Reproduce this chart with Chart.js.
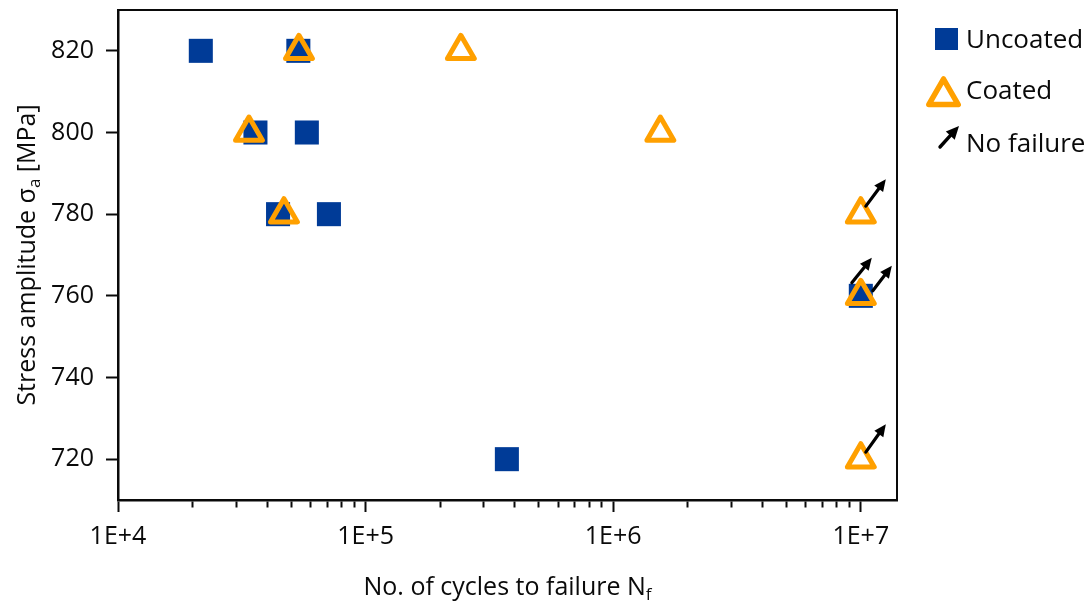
<!DOCTYPE html>
<html>
<head>
<meta charset="utf-8">
<script src="https://cdn.jsdelivr.net/npm/chart.js@4.4.1/dist/chart.umd.min.js"></script>
<style>
  html, body { margin: 0; padding: 0; background: #ffffff; }
  #wrap { width: 1090px; height: 605px; }
</style>
</head>
<body>
<div id="wrap"><canvas id="sn" width="1090" height="605"></canvas></div>
<script>
// S-N fatigue results: cycles to failure vs. stress amplitude
const uncoatedCycles = [21600, 53500, 35900, 57900, 44300, 71100, 372000, 1e7];
const uncoatedStress = [820, 820, 800, 800, 780, 780, 720, 760];
const coatedCycles   = [53800, 242500, 33800, 46800, 1550000, 1e7, 1e7, 1e7];
const coatedStress   = [820, 820, 800, 780, 800, 780, 760, 720];

// run-outs (no failure): which dataset and which point
const runoutSeries = [1, 0, 1, 1];
const runoutIndex  = [5, 7, 6, 7];

const xMajorTicks  = [1e4, 1e5, 1e6, 1e7];
const xTickLabels  = ['1E+4', '1E+5', '1E+6', '1E+7'];
const yTickValues  = [720, 740, 760, 780, 800, 820];

const legendLabels = ['Uncoated', 'Coated', 'No failure'];

// styling
const BLUE = '#003b97';
const ORANGE = '#ffa000';
const INK = '#0a0a0a';
const FONT = '"Open Sans", "Noto Sans", sans-serif';
const TXT = 25;      // axis text size
const SUB = 17;      // subscript size
const LEG = 26;      // legend text size
// arrow start/end offsets (px) from the run-out point, one per run-out
const arrowOffsets = [
  [5, -8, 25, -35],
  [-9, -13, 11, -38],
  [12, -5, 31, -30],
  [5, -7, 25, -35]
];

const xMinorTicks = [];
for (let d = 1e4; d < 1e7; d *= 10) {
  for (let m = 2; m <= 9; m++) xMinorTicks.push(d * m);
}
const xAllTicks = xMajorTicks.concat(xMinorTicks).sort((a, b) => a - b);
const isMajor = v => xMajorTicks.some(t => Math.abs(t - v) / t < 1e-9);

function toPoints(xs, ys) { return xs.map((x, i) => ({ x: x, y: ys[i] })); }

function drawArrow(ctx, x0, y0, x1, y1, lw, headLen, headW) {
  const ang = Math.atan2(y1 - y0, x1 - x0);
  const bx = x1 - Math.cos(ang) * headLen, by = y1 - Math.sin(ang) * headLen;
  ctx.save();
  ctx.strokeStyle = '#000'; ctx.fillStyle = '#000';
  ctx.lineWidth = lw; ctx.lineCap = 'round';
  ctx.beginPath(); ctx.moveTo(x0, y0); ctx.lineTo(bx + Math.cos(ang) * 2, by + Math.sin(ang) * 2); ctx.stroke();
  const px = -Math.sin(ang) * headW / 2, py = Math.cos(ang) * headW / 2;
  ctx.beginPath();
  ctx.moveTo(x1, y1);
  ctx.lineTo(bx + px, by + py);
  ctx.lineTo(bx - px, by - py);
  ctx.closePath(); ctx.fill();
  ctx.restore();
}

// text with a subscript part; parts = [[text, isSub], ...]
function richWidth(ctx, parts, size, subSize) {
  let w = 0;
  parts.forEach(p => { ctx.font = (p[1] ? subSize : size) + 'px ' + FONT; w += ctx.measureText(p[0]).width; });
  return w;
}
function drawRich(ctx, parts, x, y, size, subSize, subDrop) {
  let cx = x;
  parts.forEach(p => {
    ctx.font = (p[1] ? subSize : size) + 'px ' + FONT;
    ctx.fillText(p[0], cx, p[1] ? y + subDrop : y);
    cx += ctx.measureText(p[0]).width;
  });
}

const decorations = {
  id: 'decorations',
  beforeDatasetsDraw(chart) {
    const { ctx, chartArea: a } = chart;
    ctx.save();
    ctx.strokeStyle = INK; ctx.lineWidth = 2;
    ctx.beginPath();
    ctx.moveTo(a.left, a.top); ctx.lineTo(a.right, a.top); ctx.lineTo(a.right, a.bottom);
    ctx.stroke();
    ctx.restore();
    ctx.save();
    ctx.lineJoin = 'round';
  },
  afterDatasetsDraw(chart) {
    const ctx = chart.ctx;
    ctx.restore();
    runoutSeries.forEach((s, k) => {
      const pt = chart.getDatasetMeta(s).data[runoutIndex[k]];
      const o = arrowOffsets[k];
      drawArrow(ctx, pt.x + o[0], pt.y + o[1], pt.x + o[2], pt.y + o[3], 3.2, 12, 11);
    });
  },
  afterDraw(chart) {
    const { ctx, chartArea: a } = chart;
    ctx.save();
    ctx.fillStyle = INK;
    ctx.textBaseline = 'alphabetic';
    ctx.textAlign = 'left';

    // x-axis title
    const xParts = [['No. of cycles to failure N', false], ['f', true]];
    const xw = richWidth(ctx, xParts, TXT, SUB);
    drawRich(ctx, xParts, (a.left + a.right) / 2 - xw / 2, 595, TXT, SUB, 5);

    // y-axis title (rotated)
    const yParts = [['Stress amplitude \u03c3', false], ['a', true], [' [MPa]', false]];
    const yw = richWidth(ctx, yParts, TXT, SUB);
    ctx.save();
    ctx.translate(35, (a.top + a.bottom) / 2);
    ctx.rotate(-Math.PI / 2);
    drawRich(ctx, yParts, -yw / 2, 0, TXT, SUB, 5);
    ctx.restore();

    // legend
    ctx.fillStyle = BLUE;
    ctx.fillRect(935, 28, 23, 22);
    ctx.save();
    ctx.strokeStyle = ORANGE; ctx.lineWidth = 5.5; ctx.lineJoin = 'round';
    const tcx = 943.5, tcy = 96, tr = 17;
    ctx.beginPath();
    for (let i = 0; i < 3; i++) {
      const ang = i * 2 * Math.PI / 3;
      const px = tcx + Math.sin(ang) * tr, py = tcy - Math.cos(ang) * tr;
      if (i === 0) ctx.moveTo(px, py); else ctx.lineTo(px, py);
    }
    ctx.closePath(); ctx.stroke();
    ctx.restore();
    drawArrow(ctx, 940, 147, 959, 126, 3.4, 13, 12);
    ctx.fillStyle = INK;
    ctx.font = LEG + 'px ' + FONT;
    ctx.fillText(legendLabels[0], 966, 48);
    ctx.fillText(legendLabels[1], 966, 99);
    ctx.fillText(legendLabels[2], 966, 152);
    ctx.restore();
  }
};

new Chart(document.getElementById('sn'), {
  type: 'scatter',
  data: {
    datasets: [
      {
        label: legendLabels[0],
        data: toPoints(uncoatedCycles, uncoatedStress),
        pointStyle: 'rect',
        pointRadius: 17,
        pointBackgroundColor: BLUE,
        pointBorderWidth: 0,
        pointBorderColor: BLUE,
        order: 2,
        clip: false
      },
      {
        label: legendLabels[1],
        data: toPoints(coatedCycles, coatedStress),
        pointStyle: 'triangle',
        pointRadius: 15.5,
        pointBackgroundColor: 'rgba(0,0,0,0)',
        pointBorderColor: ORANGE,
        pointBorderWidth: 5,
        order: 1,
        clip: false
      }
    ]
  },
  options: {
    responsive: false,
    animation: false,
    events: [],
    layout: { autoPadding: false, padding: { top: 10, right: 193, left: 0, bottom: 0 } },
    plugins: { legend: { display: false }, tooltip: { enabled: false } },
    scales: {
      x: {
        type: 'logarithmic',
        position: 'bottom',
        min: 1e4,
        max: 1.4e7,
        afterBuildTicks: s => { s.ticks = xAllTicks.map(v => ({ value: v, major: isMajor(v) })); },
        afterFit: s => { s.height = 105; s.paddingLeft = 0; s.paddingRight = 0; s.paddingTop = 0; s.paddingBottom = 0; },
        border: { display: true, color: INK, width: 2.5 },
        grid: {
          drawOnChartArea: false,
          drawTicks: true,
          tickLength: 12,
          tickWidth: 2,
          tickColor: INK,
          tickBorderDash: c => (c.tick && isMajor(c.tick.value)) ? [] : [6, 200]
        },
        ticks: {
          autoSkip: false,
          maxRotation: 0,
          minRotation: 0,
          padding: 10,
          color: INK,
          font: { family: FONT, size: TXT },
          callback: v => { const i = xMajorTicks.findIndex(t => Math.abs(t - v) / t < 1e-9); return i >= 0 ? xTickLabels[i] : ''; }
        }
      },
      y: {
        min: 710,
        max: 830,
        afterBuildTicks: s => { s.ticks = yTickValues.map(v => ({ value: v })); },
        afterFit: s => { s.width = 118; s.paddingTop = 0; s.paddingBottom = 0; s.paddingLeft = 0; s.paddingRight = 0; },
        border: { display: true, color: INK, width: 2.5 },
        grid: { drawOnChartArea: false, drawTicks: true, tickLength: 12, tickWidth: 2, tickColor: INK },
        ticks: {
          padding: 12,
          color: INK,
          font: { family: FONT, size: TXT },
          callback: v => String(v)
        }
      }
    }
  },
  plugins: [decorations]
});
</script>
</body>
</html>
